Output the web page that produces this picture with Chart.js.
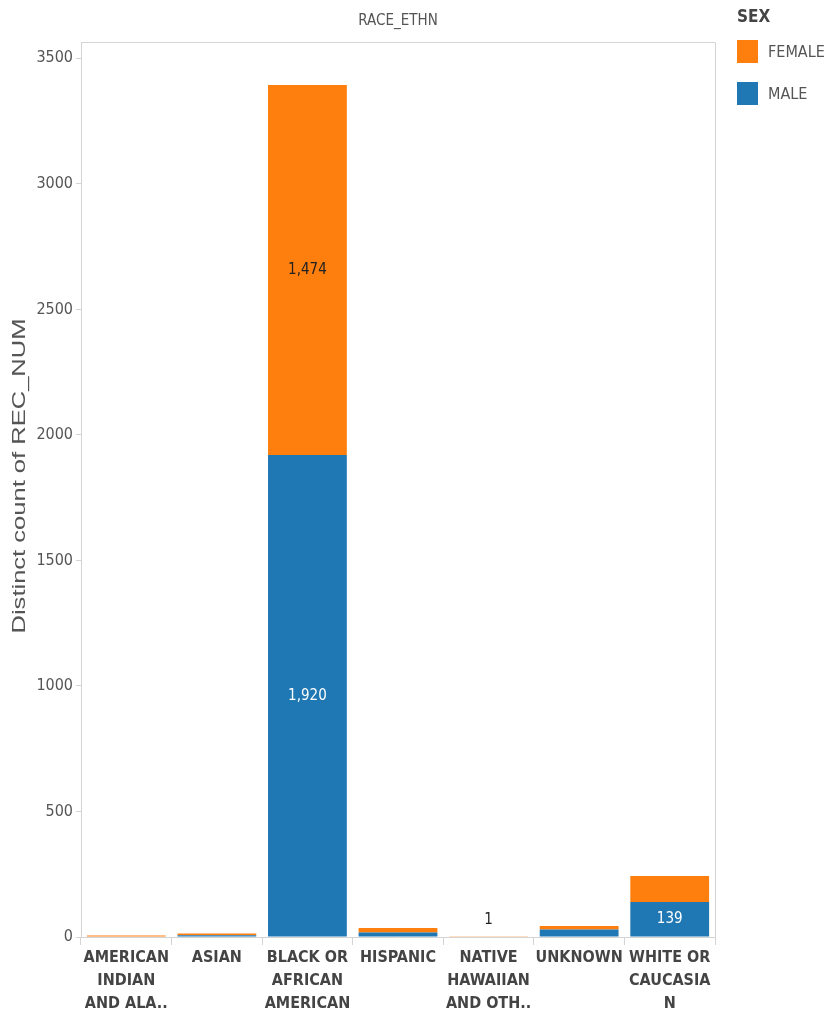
<!DOCTYPE html>
<html>
<head>
<meta charset="utf-8">
<script src="https://cdn.jsdelivr.net/npm/chart.js@4/dist/chart.umd.min.js"></script>
<style>
  body { margin: 0; background: #fff; }
  #wrap { position: relative; width: 835px; height: 1013px; }
  .legend { position: absolute; left: 737px; top: 6px; font-family: 'Liberation Sans Narrow', 'DejaVu Sans Condensed', sans-serif; color: #555; }
  .legend .ttl { font-weight: bold; font-size: 17px; color: #444; margin-bottom: 4px; }
  .legend .item { display: flex; align-items: center; height: 42px; font-size: 16px; }
  .legend .sw { width: 21px; height: 23px; margin-right: 10px; }
</style>
</head>
<body>
<div id="wrap">
  <canvas id="c" width="835" height="1013"></canvas>
  <div class="legend">
    <div class="ttl">SEX</div>
    <div class="item"><span class="sw" style="background:#ff7f0e"></span>FEMALE</div>
    <div class="item"><span class="sw" style="background:#1f77b4"></span>MALE</div>
  </div>
</div>
<script>
const categories = [
  ['AMERICAN', 'INDIAN', 'AND ALA..'],
  ['ASIAN'],
  ['BLACK OR', 'AFRICAN', 'AMERICAN'],
  ['HISPANIC'],
  ['NATIVE', 'HAWAIIAN', 'AND OTH..'],
  ['UNKNOWN'],
  ['WHITE OR', 'CAUCASIA', 'N']
];
const male = [2, 7, 1920, 18, 0, 30, 139];
const female = [4, 7, 1474, 18, 1, 14, 104];
const yTicks = [0, 500, 1000, 1500, 2000, 2500, 3000, 3500];
// which marks carry a value label
const maleLabels = [false, false, true, false, false, false, true];
const femaleLabels = [false, false, true, false, true, false, false];

const FONT = "'Liberation Sans Narrow', 'DejaVu Sans Condensed', sans-serif";

const frame = {
  id: 'frame',
  beforeDraw(chart) {
    const {ctx, chartArea: a} = chart;
    ctx.save();
    ctx.strokeStyle = '#d4d4d4';
    ctx.lineWidth = 1;
    ctx.beginPath();
    ctx.moveTo(a.left, a.top + 0.5);
    ctx.lineTo(a.right + 0.5, a.top + 0.5);
    ctx.lineTo(a.right + 0.5, a.bottom);
    ctx.stroke();
    ctx.fillStyle = '#555';
    ctx.font = '15px ' + FONT;
    ctx.textAlign = 'center';
    ctx.textBaseline = 'middle';
    ctx.fillText('RACE_ETHN', (a.left + a.right) / 2, 21);
    // y title, stretched like the source screenshot
    const t = 'Distinct count of REC_NUM';
    ctx.font = '18px "Liberation Sans", Arial, sans-serif';
    const w = ctx.measureText(t).width;
    ctx.translate(20, 476);
    ctx.rotate(-Math.PI / 2);
    ctx.scale(315 / w, 1);
    ctx.fillText(t, 0, 0);
    ctx.restore();
  }
};

const valueLabels = {
  id: 'valueLabels',
  afterDatasetsDraw(chart) {
    const {ctx} = chart;
    ctx.save();
    ctx.font = '15px ' + FONT;
    ctx.textAlign = 'center';
    ctx.textBaseline = 'middle';
    chart.data.datasets.forEach((ds, di) => {
      const meta = chart.getDatasetMeta(di);
      meta.data.forEach((bar, i) => {
        if (!ds.showLabels[i]) return;
        const v = ds.data[i];
        const h = bar.base - bar.y;
        let y = bar.y + h / 2;
        if (h < 20) y = bar.base - 16;
        ctx.fillStyle = (h < 20) ? '#222' : ds.labelColor;
        ctx.fillText(v.toLocaleString('en-US'), bar.x, y);
      });
    });
    ctx.restore();
  }
};

new Chart(document.getElementById('c'), {
  type: 'bar',
  data: {
    labels: categories,
    datasets: [
      { label: 'MALE', data: male, backgroundColor: '#1f77b4', showLabels: maleLabels, labelColor: '#fff' },
      { label: 'FEMALE', data: female, backgroundColor: '#ff7f0e', showLabels: femaleLabels, labelColor: '#222' }
    ]
  },
  options: {
    responsive: false,
    animation: false,
    barPercentage: 0.87,
    categoryPercentage: 1,
    layout: { padding: { top: 42, right: 120, left: 0, bottom: 0 } },
    plugins: { legend: { display: false }, tooltip: { enabled: false } },
    scales: {
      x: {
        stacked: true,
        grid: { display: true, drawOnChartArea: false, drawTicks: true, tickLength: 8, color: '#d4d4d4', offset: true },
        border: { color: '#d4d4d4' },
        ticks: { color: '#444', font: { family: FONT, size: 16, weight: 'bold', lineHeight: 1.45 }, maxRotation: 0, autoSkip: false, padding: 1 },
        afterFit(scale) { scale.height = 76; }
      },
      y: {
        stacked: true,
        min: 0,
        max: 3565,
        grid: { drawOnChartArea: false, drawTicks: true, tickLength: 5, color: '#d4d4d4' },
        border: { color: '#d4d4d4' },
        ticks: { color: '#555', font: { family: FONT, size: 16 }, padding: 3, autoSkip: false, callback: v => String(v) },
        afterBuildTicks(scale) { scale.ticks = yTicks.map(v => ({ value: v })); },
        afterFit(scale) { scale.width = 81; }
      }
    }
  },
  plugins: [frame, valueLabels]
});
</script>
</body>
</html>
